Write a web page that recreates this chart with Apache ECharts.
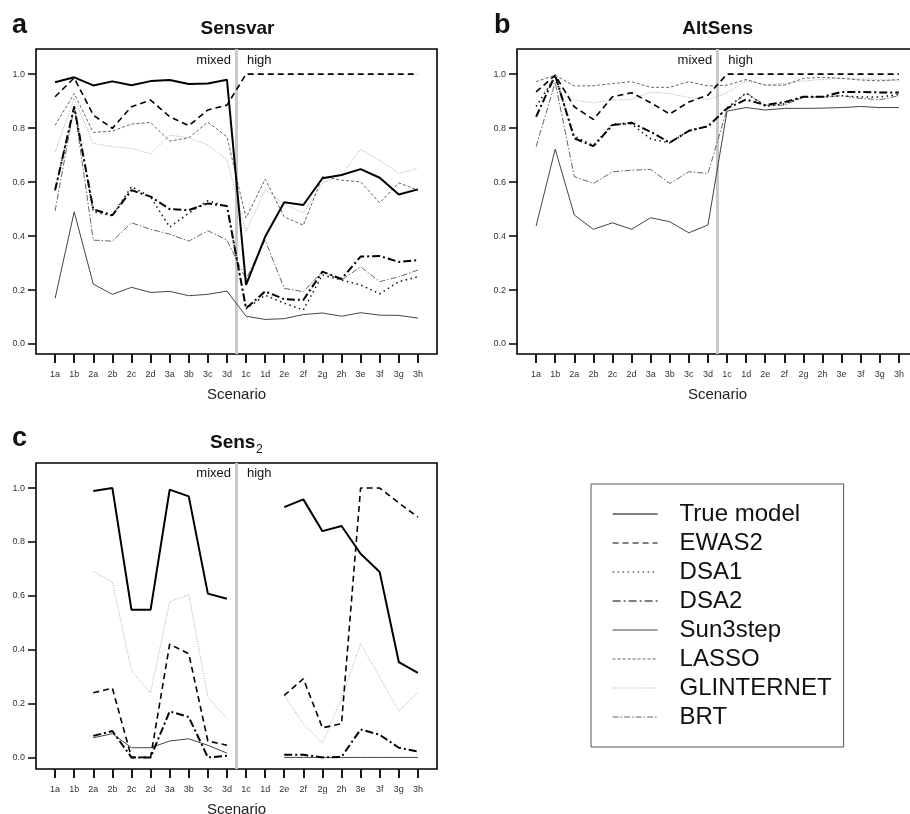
<!DOCTYPE html>
<html><head><meta charset="utf-8">
<script src="https://cdn.jsdelivr.net/npm/echarts@6/dist/echarts.min.js"></script>
<style>html,body{margin:0;padding:0;background:#fff}#c{width:910px;height:814px}</style>
</head><body><div id="c"></div>
<script>
// ---------- data ----------
const scenarios = ['1a','1b','2a','2b','2c','2d','3a','3b','3c','3d','1c','1d','2e','2f','2g','2h','3e','3f','3g','3h'];
const yTicks = [0, 0.2, 0.4, 0.6, 0.8, 1.0];
const methods = ['True model','EWAS2','DSA1','DSA2','Sun3step','LASSO','GLINTERNET','BRT'];

// Panel a: Sensvar
const a_true  = [0.970,0.988,0.958,0.973,0.959,0.974,0.978,0.963,0.965,0.979, 0.219,0.397,0.525,0.515,0.614,0.626,0.648,0.616,0.554,0.573];
const a_ewas2 = [0.916,0.986,0.848,0.799,0.879,0.904,0.842,0.809,0.867,0.885, 1.0,1.0,1.0,1.0,1.0,1.0,1.0,1.0,1.0,1.0];
const a_dsa1  = [0.570,0.880,0.490,0.475,0.583,0.545,0.433,0.485,0.531,0.510, 0.130,0.181,0.151,0.126,0.256,0.237,0.219,0.186,0.231,0.249];
const a_dsa2  = [0.570,0.879,0.499,0.477,0.570,0.546,0.500,0.496,0.521,0.511, 0.132,0.195,0.166,0.163,0.268,0.241,0.324,0.326,0.304,0.311];
const a_sun   = [0.169,0.490,0.222,0.184,0.210,0.191,0.195,0.179,0.184,0.196, 0.103,0.091,0.094,0.109,0.115,0.103,0.116,0.107,0.106,0.096];
const a_lasso = [0.810,0.928,0.784,0.789,0.815,0.821,0.752,0.764,0.822,0.768, 0.467,0.611,0.471,0.440,0.620,0.607,0.601,0.523,0.597,0.570];
const a_glint = [0.712,0.910,0.743,0.731,0.725,0.704,0.774,0.764,0.737,0.684, 0.416,0.570,0.520,0.485,0.596,0.626,0.721,0.680,0.632,0.651];
const a_brt   = [0.493,0.880,0.385,0.381,0.449,0.425,0.407,0.381,0.420,0.385, 0.240,0.385,0.206,0.194,0.268,0.237,0.286,0.231,0.249,0.274];

// Panel b: AltSens
const b_true  = [null,null,null,null,null,null,null,null,null,null, null,null,null,null,null,null,null,null,null,null];
const b_ewas2 = [0.934,0.996,0.879,0.832,0.916,0.931,0.894,0.852,0.897,0.922, 1.0,1.0,1.0,1.0,1.0,1.0,1.0,1.0,1.0,1.0];
const b_dsa1  = [0.880,0.990,0.770,0.735,0.815,0.815,0.760,0.745,0.790,0.805, 0.875,0.930,0.880,0.890,0.915,0.915,0.920,0.915,0.915,0.925];
const b_dsa2  = [0.842,0.996,0.762,0.733,0.811,0.820,0.786,0.746,0.790,0.807, 0.873,0.906,0.885,0.896,0.916,0.916,0.934,0.934,0.932,0.932];
const b_sun   = [0.437,0.722,0.478,0.425,0.449,0.425,0.468,0.453,0.412,0.441, 0.863,0.876,0.867,0.873,0.873,0.874,0.876,0.880,0.876,0.876];
const b_lasso = [0.972,0.996,0.956,0.957,0.965,0.972,0.951,0.951,0.972,0.956, 0.959,0.980,0.959,0.959,0.984,0.988,0.984,0.978,0.975,0.980];
const b_glint = [0.910,0.970,0.904,0.894,0.904,0.906,0.934,0.928,0.913,0.906, 0.930,0.975,0.960,0.965,0.975,0.980,0.985,0.982,0.980,0.975];
const b_brt   = [0.731,0.970,0.620,0.595,0.638,0.644,0.647,0.595,0.638,0.632, 0.870,0.930,0.885,0.885,0.915,0.915,0.920,0.910,0.905,0.920];

// Panel c: Sens2
const c_true  = [null,null,0.989,1.000,0.548,0.548,0.994,0.969,0.608,0.589, null,null,0.929,0.958,0.840,0.859,0.756,0.688,0.354,0.314];
const c_ewas2 = [null,null,0.240,0.257,0.000,0.000,0.420,0.385,0.061,0.045, null,null,0.230,0.292,0.110,0.125,1.000,1.000,0.945,0.892];
const c_dsa1  = [null,null,null,null,null,null,null,null,null,null, null,null,null,null,null,null,null,null,null,null];
const c_dsa2  = [null,null,0.080,0.098,0.000,0.000,0.171,0.150,0.000,0.006, null,null,0.010,0.010,0.000,0.002,0.104,0.084,0.036,0.022];
const c_sun   = [null,null,0.073,0.088,0.036,0.036,0.061,0.069,0.045,0.016, null,null,0.000,0.000,0.000,0.000,0.000,0.000,0.000,0.000];
const c_lasso = [null,null,null,null,null,null,null,null,null,null, null,null,null,null,null,null,null,null,null,null];
const c_glint = [null,null,0.691,0.651,0.323,0.240,0.577,0.605,0.224,0.144, null,null,0.230,0.125,0.053,0.218,0.422,0.298,0.172,0.243];
const c_brt   = [null,null,null,null,null,null,null,null,null,null, null,null,null,null,null,null,null,null,null,null];

const panelA = [a_true,a_ewas2,a_dsa1,a_dsa2,a_sun,a_lasso,a_glint,a_brt];
const panelB = [b_true,b_ewas2,b_dsa1,b_dsa2,b_sun,b_lasso,b_glint,b_brt];
const panelC = [c_true,c_ewas2,c_dsa1,c_dsa2,c_sun,c_lasso,c_glint,c_brt];

// ---------- styles ----------
const styles = [
  {color:'#000', width:2,   type:'solid'},
  {color:'#000', width:1.6, type:[6,4]},
  {color:'#111', width:1.5, type:[1.5,3.5]},
  {color:'#000', width:2,   type:[8,3,2,3]},
  {color:'#444', width:1,   type:'solid'},
  {color:'#666', width:1,   type:[3,2]},
  {color:'#aaa', width:1,   type:[1,1.5]},
  {color:'#666', width:1,   type:[6,2,1.5,2]}
];

const FONT = 'Liberation Sans, Arial, sans-serif';
const grids = [
  {left:36,  top:49,  width:401, height:305},
  {left:517, top:49,  width:401, height:305},
  {left:36,  top:463, width:401, height:306}
];
const yRanges = [[-0.037,1.093],[-0.037,1.093],[-0.043,1.093]];
const xIdx = scenarios.map((s,i)=>i+1);

const xAxes = grids.map((g,k)=>({
  gridIndex:k, type:'value', min:0, max:21, position:'bottom',
  axisLine:{show:false, onZero:false}, splitLine:{show:false},
  axisTick:{show:true, customValues:xIdx, length:9, lineStyle:{color:'#000', width:1.8}},
  axisLabel:{customValues:xIdx, margin:16, fontSize:9, color:'#333', fontFamily:FONT,
    formatter:v=>scenarios[Math.round(v)-1] || ''},
  name:'Scenario', nameLocation:'middle', nameGap:33,
  nameTextStyle:{fontSize:15, color:'#222', fontFamily:FONT}
}));
const yAxes = grids.map((g,k)=>({
  gridIndex:k, type:'value', min:yRanges[k][0], max:yRanges[k][1], position:'left',
  axisLine:{show:false, onZero:false}, splitLine:{show:false},
  axisTick:{show:true, customValues:yTicks, length:8, lineStyle:{color:'#000', width:1.5}},
  axisLabel:{customValues:yTicks, margin:11, fontSize:9, color:'#333', fontFamily:FONT,
    formatter:v=>v.toFixed(1)}
}));

const series = [];
[panelA,panelB,panelC].forEach((panel,k)=>{
  panel.forEach((vals,m)=>{
    const st = styles[m];
    const s = {
      name:methods[m], type:'line', xAxisIndex:k, yAxisIndex:k,
      symbol:'none', silent:true, animation:false, z: 10-m,
      lineStyle:{color:st.color, width:st.width, type:st.type},
      itemStyle:{color:st.color},
      data: vals.map((v,i)=>[i+1, v])
    };
    if (m===0) {
      s.markLine = {silent:true, symbol:'none', label:{show:false}, z:1,
        lineStyle:{color:'#c8c8c8', width:3, type:'solid'},
        data:[{xAxis:10.5}]};
    }
    series.push(s);
  });
});

function txt(x,y,text,size,weight,align){
  return {type:'text', x:x, y:y, style:{text:text, fontSize:size, fontWeight:weight||'normal',
    fontFamily:FONT, fill:'#111', align:align||'left', verticalAlign:'middle'}};
}

const option = {
  backgroundColor:'#fff',
  animation:false,
  grid: grids.map(g=>Object.assign({show:true, borderColor:'#000', borderWidth:1.6,
    backgroundColor:'transparent', containLabel:false, outerBoundsMode:'none'}, g)),
  xAxis:xAxes, yAxis:yAxes, series:series,
  legend:{
    data:methods, orient:'vertical', left:591, top:484,
    itemWidth:45, itemHeight:14, itemGap:5,
    padding:[18,12,18,21], borderColor:'#555', borderWidth:1,
    itemStyle:{color:'transparent', borderColor:'transparent', borderWidth:0, opacity:0},
    lineStyle:{width:1.2},
    textStyle:{fontSize:24, lineHeight:24, color:'#111', fontFamily:FONT, padding:[0,0,0,17]},
    selectedMode:false
  },
  graphic:[
    txt(12,25.5,'a',27,'bold'),
    txt(494,25.5,'b',27,'bold'),
    txt(12,439,'c',27,'bold'),
    txt(237.5,28.5,'Sensvar',19,'bold','center'),
    txt(717.7,28.5,'AltSens',19,'bold','center'),
    txt(210,442.5,'Sens',19,'bold','left'),
    txt(256,450,'2',12,'normal','left'),
    txt(231,60,'mixed',13,'normal','right'),
    txt(247,60,'high',13,'normal','left'),
    txt(712.3,60,'mixed',13,'normal','right'),
    txt(728.3,60,'high',13,'normal','left'),
    txt(231,473,'mixed',13,'normal','right'),
    txt(247,473,'high',13,'normal','left')
  ]
};
echarts.init(document.getElementById('c'), null, {renderer:'canvas'}).setOption(option);
</script>
</body></html>
